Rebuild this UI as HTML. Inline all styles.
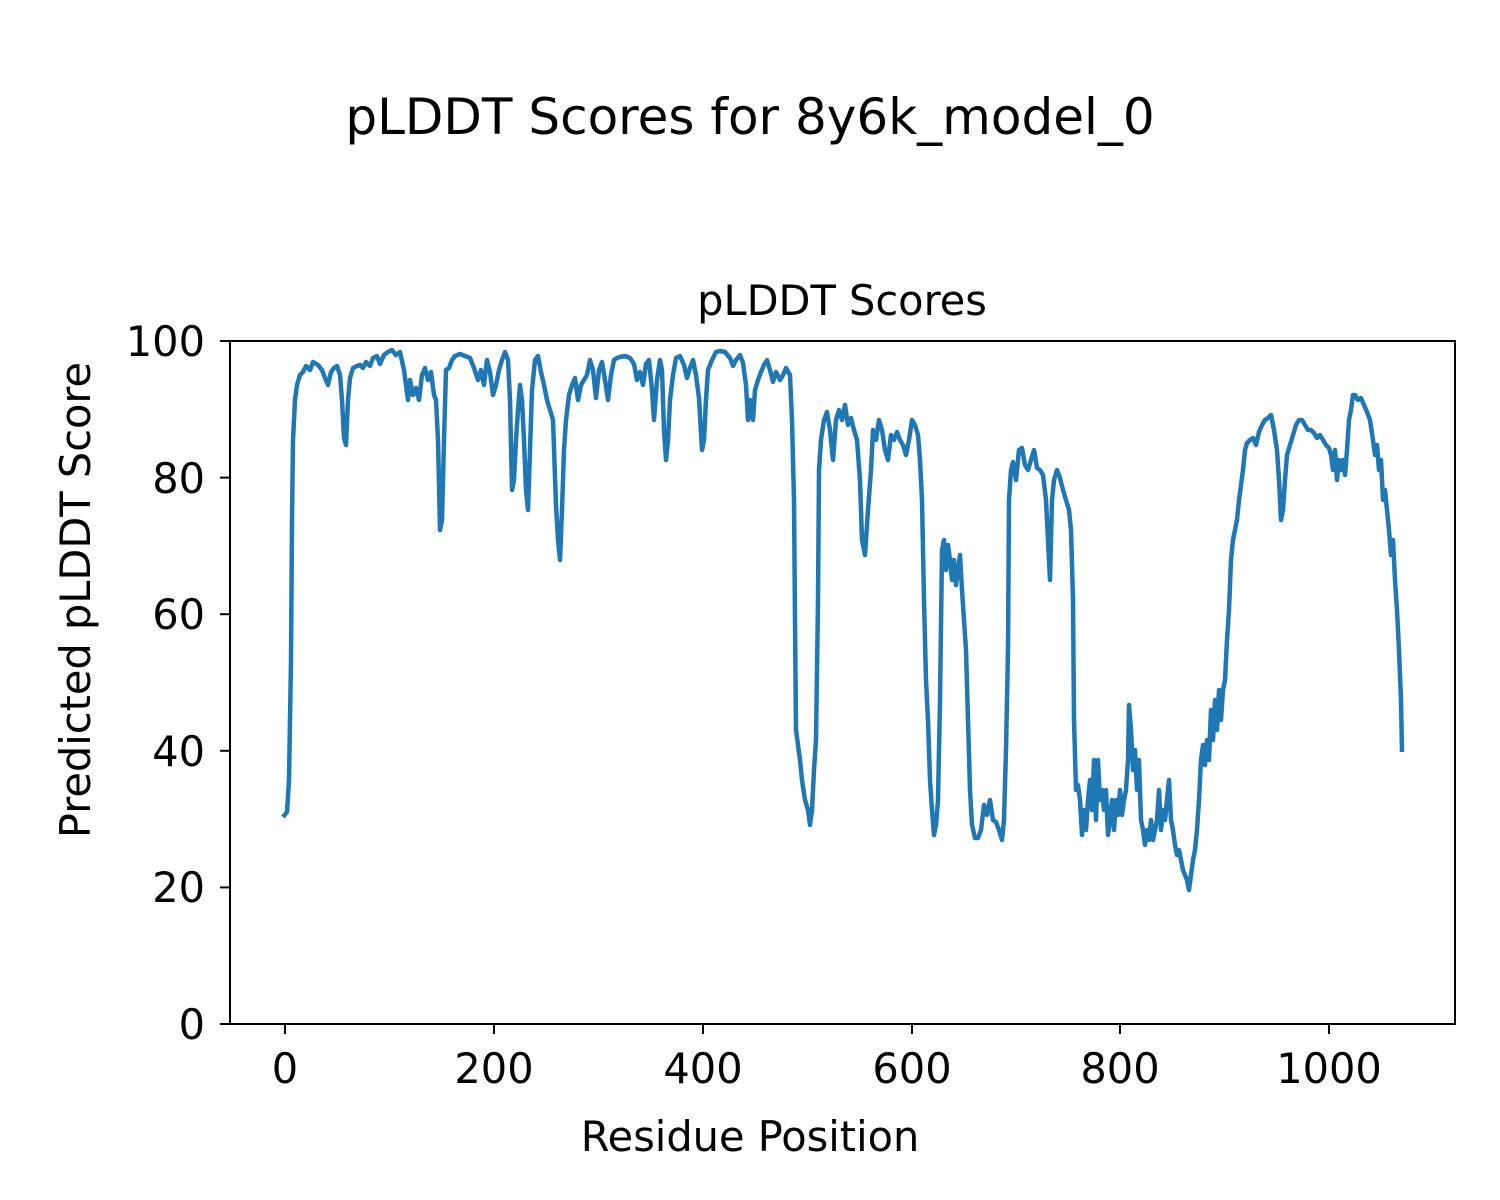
<!DOCTYPE html>
<html><head><meta charset="utf-8"><style>body{margin:0;background:#fff}svg{display:block}text{font-family:"DejaVu Sans","Liberation Sans",sans-serif;fill:#000}</style></head><body>
<svg width="1500" height="1200" viewBox="0 0 1500 1200">
<rect width="1500" height="1200" fill="#fff"/>
<text x="750" y="134" font-size="50" text-anchor="middle">pLDDT Scores for 8y6k_model_0</text>
<text x="842" y="315" font-size="41.5" text-anchor="middle">pLDDT Scores</text>
<clipPath id="c"><rect x="230" y="341" width="1225" height="683"/></clipPath>
<polyline clip-path="url(#c)" fill="none" stroke="#1f77b4" stroke-width="4.5" stroke-linejoin="round" points="283,817 287,812 289,780 291,660 292,520 293,440 295,400 297,385 300,375 303,372 306,366 310,370 313,362 318,365 322,370 325,378 328,385 331,372 334,368 337,366 340,375 342,400 344,438 346,445 348,400 350,378 353,368 357,366 360,365 363,368 366,362 370,366 373,358 377,356 380,364 384,355 388,352 392,350 396,355 400,352 404,370 406,385 408,400 410,380 413,395 416,388 419,400 422,375 425,368 428,380 431,372 434,395 436,400 438,440 440,530 442,520 444,440 446,370 449,368 452,360 455,356 460,354 465,356 470,358 474,368 478,380 481,370 484,385 487,360 490,372 493,395 496,385 499,370 502,360 505,352 508,360 510,400 512,490 514,480 516,440 518,410 520,385 522,400 524,440 526,490 528,510 530,450 532,390 535,360 538,356 541,372 544,385 547,400 550,410 553,420 556,505 558,540 560,560 562,510 564,450 566,420 569,395 572,385 575,378 578,400 581,385 584,380 587,375 590,360 593,370 596,398 599,370 602,362 605,380 608,400 611,375 614,360 617,358 620,357 625,356 630,358 634,364 637,380 640,372 643,385 646,364 649,360 652,390 654,420 657,380 660,360 662,370 664,430 666,460 668,440 670,400 673,375 676,358 680,356 684,365 687,378 690,368 693,360 696,375 699,398 702,450 704,440 706,400 708,370 712,360 716,352 720,351 725,352 730,358 733,366 736,360 740,355 743,363 746,385 748,420 750,400 753,420 755,390 758,380 761,372 764,365 767,360 770,370 773,382 776,372 780,380 783,375 786,368 790,375 792,420 794,500 795,620 796,730 798,745 800,760 802,780 805,800 808,810 810,825 812,810 814,770 816,740 818,600 819,470 821,440 824,420 827,412 830,430 833,460 836,420 839,410 842,420 845,405 848,425 851,418 854,430 857,440 860,480 862,540 865,555 868,510 871,470 873,430 876,440 879,420 882,430 885,450 888,460 891,435 894,440 897,432 900,440 903,445 906,455 909,440 912,420 915,425 918,435 920,460 922,500 924,600 926,680 928,720 930,780 932,810 934,835 936,825 938,800 940,700 942,550 944,540 946,570 948,545 950,560 952,580 954,560 956,585 958,570 960,555 962,590 964,620 966,650 968,720 970,790 972,825 975,838 978,838 981,830 984,805 987,815 990,800 993,820 996,822 999,830 1002,840 1004,820 1006,750 1008,650 1009,500 1011,470 1013,462 1016,480 1019,450 1022,448 1025,465 1028,470 1031,460 1034,450 1037,468 1040,470 1043,475 1046,500 1048,540 1050,580 1052,500 1054,480 1057,470 1060,478 1063,490 1066,500 1069,510 1071,530 1073,600 1074,720 1076,790 1078,785 1080,800 1082,835 1084,810 1086,830 1088,800 1090,780 1092,810 1094,760 1096,820 1098,760 1100,800 1102,790 1104,810 1106,790 1108,835 1110,820 1112,800 1114,830 1116,800 1118,815 1120,790 1122,815 1124,800 1126,790 1128,760 1129,705 1131,730 1133,770 1135,750 1137,790 1139,760 1141,820 1143,830 1145,845 1147,830 1149,840 1151,820 1153,840 1155,830 1157,820 1159,790 1161,830 1163,810 1165,820 1167,800 1169,780 1171,820 1173,830 1175,845 1177,855 1179,850 1181,860 1183,870 1185,875 1187,880 1189,890 1191,875 1193,860 1195,850 1197,830 1199,800 1201,760 1203,745 1205,765 1207,740 1209,760 1211,710 1213,740 1215,700 1217,730 1219,690 1221,720 1223,690 1225,680 1227,640 1229,610 1231,560 1233,540 1235,530 1237,520 1239,500 1241,485 1243,470 1245,450 1247,443 1250,440 1253,438 1256,445 1259,432 1262,425 1265,420 1268,418 1271,415 1274,430 1277,450 1279,480 1281,520 1283,510 1285,480 1287,455 1290,445 1293,435 1296,425 1299,420 1302,420 1305,425 1308,430 1311,430 1314,433 1317,438 1320,435 1323,440 1326,445 1329,448 1331,455 1333,470 1335,450 1337,480 1339,460 1341,470 1343,460 1345,475 1347,450 1349,420 1351,410 1353,395 1355,395 1358,400 1361,398 1364,405 1367,412 1370,420 1373,440 1375,455 1377,445 1379,470 1381,460 1383,500 1385,490 1387,510 1389,530 1391,555 1393,540 1395,580 1397,610 1399,650 1401,700 1402,752"/>
<rect x="230" y="341" width="1225" height="683" fill="none" stroke="#000" stroke-width="2"/>
<g stroke="#000" stroke-width="2">
<line x1="285" y1="1024" x2="285" y2="1034"/><line x1="494" y1="1024" x2="494" y2="1034"/><line x1="703" y1="1024" x2="703" y2="1034"/><line x1="912" y1="1024" x2="912" y2="1034"/><line x1="1120" y1="1024" x2="1120" y2="1034"/><line x1="1329" y1="1024" x2="1329" y2="1034"/>
<line x1="220" y1="1024" x2="230" y2="1024"/><line x1="220" y1="887.4" x2="230" y2="887.4"/><line x1="220" y1="750.8" x2="230" y2="750.8"/><line x1="220" y1="614.2" x2="230" y2="614.2"/><line x1="220" y1="477.6" x2="230" y2="477.6"/><line x1="220" y1="341" x2="230" y2="341"/>
</g>
<g font-size="41.5" text-anchor="middle">
<text x="285" y="1083">0</text><text x="494" y="1083">200</text><text x="703" y="1083">400</text><text x="912" y="1083">600</text><text x="1120" y="1083">800</text><text x="1329" y="1083">1000</text>
</g>
<g font-size="41.5" text-anchor="end">
<text x="205" y="1039">0</text><text x="205" y="902">20</text><text x="205" y="766">40</text><text x="205" y="629">60</text><text x="205" y="493">80</text><text x="205" y="356">100</text>
</g>
<text x="750" y="1151" font-size="41.5" text-anchor="middle">Residue Position</text>
<text transform="translate(90,600) rotate(-90)" font-size="41.5" text-anchor="middle">Predicted pLDDT Score</text>
</svg>
</body></html>
